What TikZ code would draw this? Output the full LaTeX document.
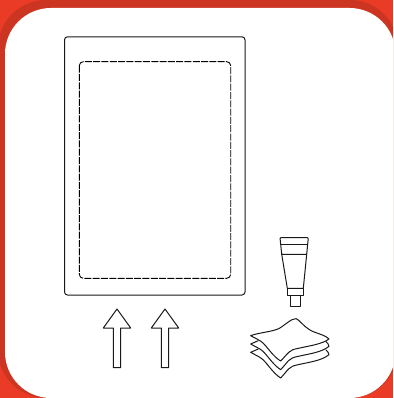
\documentclass[tikz,border=0pt]{standalone}
\definecolor{brightred}{HTML}{E93B25}
\definecolor{darkred}{HTML}{CC3521}
\tikzset{
  ink/.style={draw=black!90,line width=1pt,fill=white,line join=round},
  inkline/.style={draw=black!90,line width=1pt}
}
\newcommand{\lowerwipe}{(287,349) .. controls (293,354) and (296,358) .. (297,364) .. controls (275,382) and (240,386) .. (205,394) .. controls (175,399) and (175,410) .. (152,434) .. controls (130,420) and (115,395) .. (100,380) .. controls (90,370) and (75,365) .. (62,357) -- (85,347)}
\begin{document}
\begin{tikzpicture}[x=1pt,y=-1pt]
\useasboundingbox (0,0) rectangle (393,398);
\clip (0,0) rectangle (393,398);
\fill[brightred] (0,0) rectangle (393,398);
\fill[darkred,rounded corners=48pt] (-2,0) rectangle (398,398);
\fill[white,rounded corners=46pt] (5,8) rectangle (395.5,398);
% card
\draw[ink,rounded corners=3pt] (64.5,36.8) rectangle (245,295);
\draw[black,line width=0.9pt,dash pattern=on 7pt off 1.3pt,rounded corners=4pt] (79.3,61.7) rectangle (230.7,278.3);
% arrows
\foreach \c in {117,165}{
  \draw[ink] (\c,309) -- (\c+13.7,328) -- (\c+3.7,328) -- (\c+3.7,367.7) -- (\c-3.7,367.7) -- (\c-3.7,328) -- (\c-13.7,328) -- cycle;
}
% tube
\draw[ink] (281.7,254.3) -- (287.3,288.3) -- (303.3,288.3) -- (306.7,254.3) -- cycle;
\draw[ink] (290.7,295.7) rectangle (300.7,306);
\draw[ink] (287.3,288.3) rectangle (303.3,295.7);
\draw[ink,rounded corners=0.8pt] (280,237.7) -- (308.3,237.7) -- (306.7,254.3) -- (281.7,254.3) -- cycle;
\draw[inkline] (280.5,244) -- (307.7,244);
% wipes: zoomed coordinates, origin (230,225), factor 3
\begin{scope}[shift={(230,225)},x=0.3333pt,y=-0.3333pt]
  \draw[ink,shift={(0,25)}] \lowerwipe;
  \draw[ink] \lowerwipe;
  \draw[ink] (62,332) .. controls (90,322) and (130,320) .. (148,310) .. controls (165,300) and (185,280) .. (198,281) .. controls (210,285) and (225,312) .. (255,322) .. controls (272,328) and (288,333) .. (297,342) .. controls (275,358) and (240,362) .. (205,370) .. controls (175,375) and (175,385) .. (152,408) .. controls (130,395) and (115,370) .. (100,355) .. controls (90,345) and (75,340) .. (62,332) -- cycle;
\end{scope}
\end{tikzpicture}
\end{document}
